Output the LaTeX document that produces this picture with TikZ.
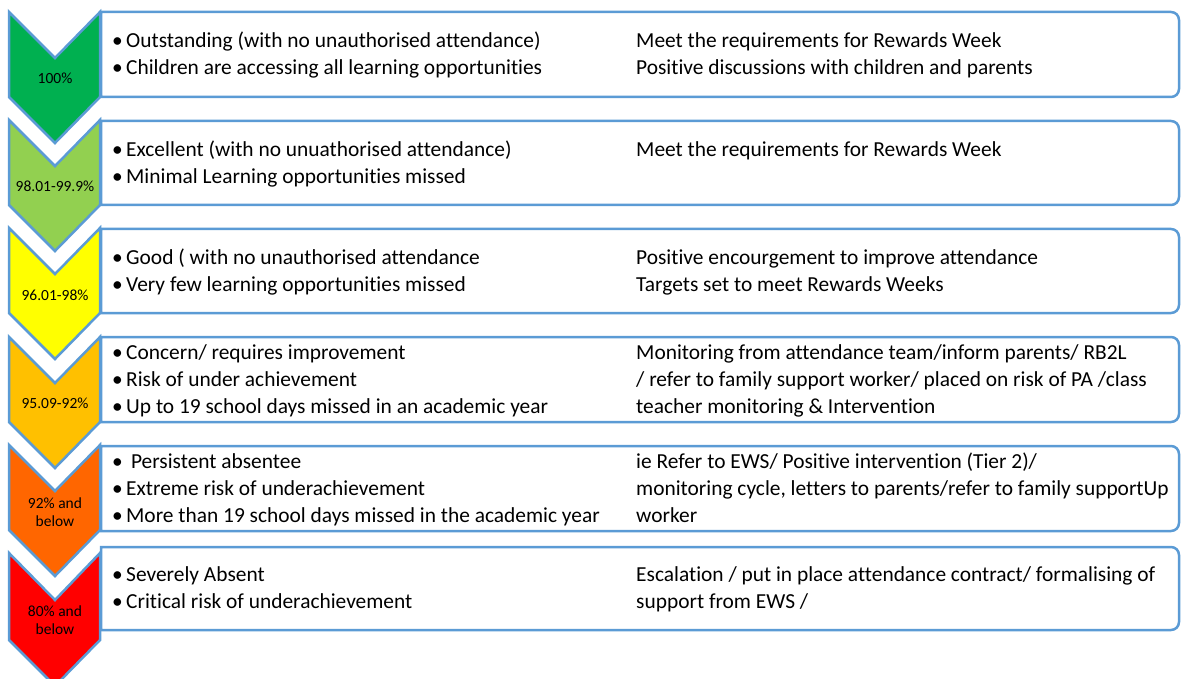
\documentclass[tikz,border=0pt]{standalone}
\usepackage{fontspec}
\setmainfont{Carlito}[Ligatures=NoCommon]
\definecolor{edge}{HTML}{5B9BD5}
\definecolor{lvA}{HTML}{00B050}
\definecolor{lvB}{HTML}{92D050}
\definecolor{lvC}{HTML}{FFFF00}
\definecolor{lvD}{HTML}{FFC000}
\definecolor{lvE}{HTML}{FF6600}
\definecolor{lvF}{HTML}{FF0000}
\newcommand{\itm}{\strut\makebox[14pt][l]{\textbullet}}
\begin{document}
\begin{tikzpicture}[x=1pt,y=1pt,
		panel/.style={draw=edge,line width=2.5pt,fill=white},
		chev/.style={draw=edge,line width=2.5pt,line join=miter},
		lbl/.style={align=center,inner sep=0pt,font=\fontsize{15.5}{18}\selectfont},
		txt/.style={align=left,inner sep=0pt,anchor=west,font=\fontsize{21.4}{27}\selectfont}]
			\useasboundingbox (0,0) rectangle (1181,-679);
			\clip (0,0) rectangle (1181,-679);
			% 100%
			\draw[panel] (101,-12) -- (1171,-12) arc (90:0:8) -- (1179,-89) arc (0:-90:8) -- (101,-97) -- cycle;
			\draw[chev,fill=lvA] (9,-12) -- (55,-58) -- (100,-12) -- (100,-97) -- (55,-143) -- (9,-97) -- cycle;
			\node[lbl] (c1) at (55,-78) {100\%};
			\node[txt] (l1) at (112,-56) {\itm Outstanding (with no unauthorised attendance)\\\itm Children are accessing all learning opportunities};
			\node[txt,anchor=north west] (r1) at (636,0 |- l1.north) {\strut Meet the requirements for Rewards Week\\Positive discussions with children and parents};
			% 98.01-99.9%
			\draw[panel] (101,-121) -- (1171,-121) arc (90:0:8) -- (1179,-197) arc (0:-90:8) -- (101,-205) -- cycle;
			\draw[chev,fill=lvB] (9,-120) -- (55,-166) -- (100,-120) -- (100,-205) -- (55,-251) -- (9,-205) -- cycle;
			\node[lbl] (c2) at (55,-186) {98.01-99.9\%};
			\node[txt] (l2) at (112,-164.6) {\itm Excellent (with no unuathorised attendance)\\\itm Minimal Learning opportunities missed};
			\node[txt,anchor=north west] (r2) at (636,0 |- l2.north) {\strut Meet the requirements for Rewards Week};
			% 96.01-98%
			\draw[panel] (101,-229) -- (1171,-229) arc (90:0:8) -- (1179,-305) arc (0:-90:8) -- (101,-313) -- cycle;
			\draw[chev,fill=lvC] (9,-228) -- (55,-274) -- (100,-228) -- (100,-313) -- (55,-359) -- (9,-313) -- cycle;
			\node[lbl] (c3) at (55,-295) {96.01-98\%};
			\node[txt] (l3) at (112,-272.6) {\itm Good ( with no unauthorised attendance\\\itm Very few learning opportunities missed};
			\node[txt,anchor=north west] (r3) at (636,0 |- l3.north) {\strut Positive encourgement to improve attendance\\Targets set to meet Rewards Weeks};
			% 95.09-92%
			\draw[panel] (101,-337) -- (1171,-337) arc (90:0:8) -- (1179,-414) arc (0:-90:8) -- (101,-422) -- cycle;
			\draw[chev,fill=lvD] (9,-337) -- (55,-383) -- (100,-337) -- (100,-422) -- (55,-468) -- (9,-422) -- cycle;
			\node[lbl] (c4) at (55,-403) {95.09-92\%};
			\node[txt] (l4) at (112,-381) {\itm Concern/ requires improvement\\\itm Risk of under achievement\\\itm Up to 19 school days missed in an academic year};
			\node[txt,anchor=north west] (r4) at (636,0 |- l4.north) {\strut Monitoring from attendance team/inform parents/ RB2L\\/ refer to family support worker/ placed on risk of PA /class\\teacher monitoring \& Intervention};
			% 92% and below
			\draw[panel] (101,-446) -- (1171,-446) arc (90:0:8) -- (1179,-523) arc (0:-90:8) -- (101,-531) -- cycle;
			\draw[chev,fill=lvE] (9,-445) -- (55,-491) -- (100,-445) -- (100,-530) -- (55,-576) -- (9,-530) -- cycle;
			\node[lbl] (c5) at (55,-512) {92\% and\\below};
			\node[txt] (l5) at (112,-490) {\itm\ Persistent absentee\\\itm Extreme risk of underachievement\\\itm More than 19 school days missed in the academic year};
			\node[txt,anchor=north west] (r5) at (636,0 |- l5.north) {\strut ie Refer to EWS/ Positive intervention (Tier 2)/\\monitoring cycle, letters to parents/refer to family supportUp\\worker};
			% 80% and below
			\draw[panel] (101,-547) -- (1171,-547) arc (90:0:8) -- (1179,-622) arc (0:-90:8) -- (101,-630) -- cycle;
			\draw[chev,fill=lvF] (9,-553) -- (55,-600) -- (100,-553) -- (100,-640) -- (55,-686) -- (9,-640) -- cycle;
			\node[lbl] (c6) at (55,-620) {80\% and\\below};
			\node[txt] (l6) at (112,-590) {\itm Severely Absent\\\itm Critical risk of underachievement};
			\node[txt,anchor=north west] (r6) at (636,0 |- l6.north) {\strut Escalation / put in place attendance contract/ formalising of\\support from EWS /};
	\end{tikzpicture}
\end{document}
